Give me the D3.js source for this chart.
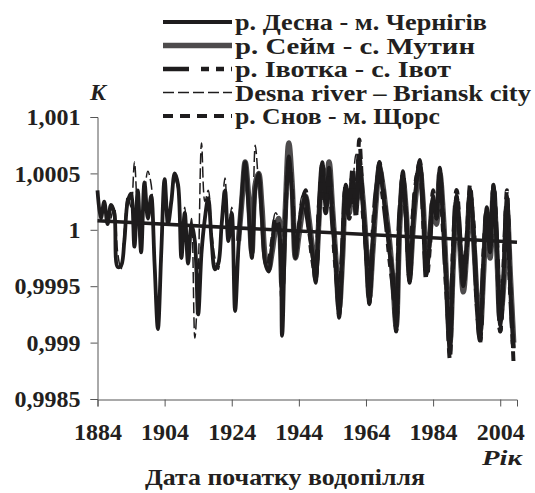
<!DOCTYPE html>
<html><head><meta charset="utf-8">
<script src="https://cdn.jsdelivr.net/npm/d3@7"></script>
<style>body{margin:0;background:#fff}svg{display:block}</style>
</head><body><svg id="c" width="535" height="493"></svg>
<script>
const seriesNames = ["р. Десна - м. Чернігів","р. Сейм - с. Мутин","р. Івотка - с. Івот","Desna river – Briansk city","р. Снов - м. Щорс"];
const yTicks = [0.9985, 0.999, 0.9995, 1, 1.0005, 1.001];
const yTickLabels = ["0,9985","0,999","0,9995","1","1,0005","1,001"];
const xTicks = [1884, 1904, 1924, 1944, 1964, 1984, 2004];
const desnaChernihivStart = 1884;
const desnaChernihiv = [1.00035,1.0001,1.00025,1.00005,1.00022,1.00015,0.99967,0.99968,0.9999,1.00025,1.00032,0.99985,1.00035,0.9998,1.00042,1.0001,1.0003,0.9997,0.99912,0.9998,
1.00045,1.00005,1.00025,1.0005,1.0004,0.99975,1.00015,0.9997,1.00005,0.9999,0.99925,0.9998,1.0001,1.00028,0.9999,0.99965,0.9997,1.00005,1.00035,0.9999,
1.00015,0.99928,0.99985,1.0003,1.0006,1.0002,0.99975,1.00035,1.0005,1.0001,0.9997,0.99963,0.99985,1.00005,1,0.99906,1.0001,1.00065,1.0003,0.99975,
1.00005,1.0002,1.0003,1.00005,0.9998,0.99953,1.00015,1.0006,1.0002,1.00055,1.0001,0.9997,0.99922,0.9998,1.0004,1.0002,1.0005,1.00015,1.0006,1.00025,
0.9998,0.99934,0.9999,1.0003,1.0006,1.00035,1.0001,0.9998,0.9996,0.9991,1.0001,1.00052,1.00005,0.99953,1.00005,1.0004,1.00062,1.0002,0.9996,0.9999,
1.0003,1.0001,1.00055,1.00005,0.9995,0.9989,0.9998,1.0003,0.9999,0.9995,0.99985,1.00036,1,0.9994,0.99905,0.9997,1.0002,0.9998,1.0004,0.99985,
0.99915,0.9996,1.0003,0.9995,0.99895];
const seimStart = 1926;
const seim = [0.9999,1.00025,1.0006,1.0003,0.9998,1.0004,1.0005,1.0002,0.99975,0.99965,0.9998,1,1.0001,0.9995,1.0002,1.00077,1.0004,0.99975,0.99995,1.00015,
1.0003,1.0001,0.99985,0.99965,1.0001,1.00055,1.0003,1.0006,1.0002,0.99975,0.9993,0.99975,1.00035,1.00015,1.00045,1.0002,1.00055,1.0003,0.9999,0.9994,
0.9998,1.00025,1.00055,1.0004,1.00015,0.9999,0.99955,0.99915,1,1.00045,1.00015,0.9996,1,1.00035,1.00055,1.00025,0.9997,0.99995,1.00025,1.00005,
1.0005,1.00015,0.99955,0.999,0.9997,1.00025,0.99985,0.99945,0.9998,1.0003,0.99995,0.99945,0.9991,0.9996,1.00015,0.99975,1.00035,0.9998,0.9992,0.9995,1.0002,0.9996,0.999];
const ivotkaStart = 1946;
const ivotka = [1.0002,1,0.99975,0.9996,1.0002,1.0005,1.00015,1.00045,1.00005,0.99965,0.99935,0.99985,1.0003,1.0001,1.0004,1.00025,1.00065,1.0002,0.99985,0.99945,
0.99995,1.00035,1.0005,1.0003,1.00005,0.99975,0.9995,0.9992,1.00015,1.0004,1.0001,0.99955,1.0001,1.00045,1.00055,1.00015,0.99955,0.99985,1.0002,1.00015,
1.00045,1,0.99945,0.99905,0.99985,1.00035,0.99995,0.99955,0.9999,1.0003,1.00005,0.99935,0.99902,0.99975,1.00015,0.99985,1.00035,0.9999,0.9991,0.99965,1.00025,0.99945,0.9989];
const brianskStart = 1888;
const briansk = [1.0001,1.0002,0.9998,0.99965,1,1.0003,1.0002,1.0006,1.0001,0.99985,1.0003,1.00052,1.0004,0.9998,0.99925,0.9997,1.00035,1.0001,1.0003,1.00045,
1.00035,0.99985,1.0002,0.9998,1.0001,0.99904,0.9996,1.00077,1.00025,1.00035,1,0.99975,0.99965,1.0001,1.00046,1,1.0002,0.99945,0.99975,1.0002,
1.00045,1.0003,0.99985,1.00075,1.0004,1.00005,0.9998,0.9997,0.99995,1.00015,1.0001,0.9992,1,1.00055,1.00025,0.99985,1.0001,1.0003,1.00025,1.0001,
0.9999,0.9996,1.0002,1.0005,1.0003,1.00045,1.0002,0.9998,0.99935,0.9999,1.0003,1.00025,1.0004,1.00067,1.0003,1.0002,0.9999,0.99945,1,1.0002,
1.0005,1.0003,1.0002,0.9999,0.9997,0.99925,1,1.00045,1.00015,0.99965,1.0001,1.0003,1.0005,1.0001,0.9997,1,1.0002,1.00005,1.00045,1.0001,0.9996,0.9991,0.9999];
const snovStart = 1935;
const snov = [0.9997,0.9999,1.0001,1.00005,0.9994,1.00015,1.0006,1.00035,0.9998,1,1.00025,1.00035,1,0.9998,0.99955,1.0001,1.0006,1.00025,1.0005,1.00015,
0.99975,0.99925,0.99985,1.0004,1.00025,1.00055,1.0001,1.0008,1.0003,0.99985,0.99935,0.99985,1.0003,1.0006,1.0004,1.00015,0.99985,0.99955,0.9991,1.00005,
1.0005,1.0001,0.9996,1.00015,1.00045,1.0006,1.0002,0.99965,0.9999,1.00035,1.0001,1.0005,1.0001,0.9995,0.99885,0.99975,1.0003,0.9999,0.9995,0.9998,
1.0004,1,0.99935,0.999,0.9997,1.0002,0.9998,1.0004,0.99985,0.9991,0.99955,1.00035,0.9995,0.9988];
const trendYears = [1884, 2009];
const trendValues = [1.00008, 0.99989];

const FONT = "Liberation Serif, Times New Roman, serif";
const INK = "#231f20";
const svg = d3.select("#c");
const x = d3.scaleLinear().domain([1884, 2009]).range([97.5, 517]);
const y = d3.scaleLinear().domain([0.9985, 1.001]).range([399, 117]);

// axes
const yAxis = d3.axisLeft(y).tickValues(yTicks).tickFormat((d,i)=>yTickLabels[i]).tickSizeOuter(0).tickSize(7).tickPadding(10);
const gy = svg.append("g").attr("transform","translate(97.5,0)").call(yAxis);
gy.attr("font-family", FONT).attr("font-size", 24);
gy.select(".domain").attr("stroke","#555");
gy.selectAll(".tick line").attr("stroke","#555");
gy.selectAll("text").attr("fill",INK).attr("font-weight","bold");

const xAxis = d3.axisBottom(x).tickValues(xTicks).tickFormat(d3.format("d")).tickSizeOuter(0).tickSize(7).tickPadding(16);
const gx = svg.append("g").attr("transform","translate(0,399.5)").call(xAxis);
gx.attr("font-family", FONT).attr("font-size", 24);
gx.select(".domain").attr("stroke","#555");
gx.selectAll(".tick line").attr("stroke","#555");
gx.selectAll("text").attr("fill",INK).attr("font-weight","bold");

const toPts = (start, arr) => arr.map((v,i)=>[start+i, v]);
const line = d3.line().x(d=>x(d[0])).y(d=>y(d[1])).curve(d3.curveCatmullRom.alpha(0.5));

const styles = [
  {w:3.8, c:"#1e1c1d", dash:null},
  {w:5.5, c:"#4d4b4c", dash:null},
  {w:4.5, c:"#1e1c1d", dash:"26,12,8,7,8,7"},
  {w:1.5, c:"#1e1c1d", dash:"11,4"},
  {w:4, c:"#1e1c1d", dash:"10,7"}
];
const data = [
  toPts(desnaChernihivStart, desnaChernihiv),
  toPts(seimStart, seim),
  toPts(ivotkaStart, ivotka),
  toPts(brianskStart, briansk),
  toPts(snovStart, snov)
];
const order = [3, 1, 0, 2, 4];
const plot = svg.append("g");
order.forEach(i=>{
  plot.append("path").datum(data[i]).attr("d", line)
    .attr("fill","none").attr("stroke",styles[i].c).attr("stroke-width",styles[i].w)
    .attr("stroke-dasharray",styles[i].dash).attr("stroke-linejoin","round");
});
// trend line
plot.append("path").datum(trendYears.map((t,i)=>[t,trendValues[i]]))
  .attr("d", d3.line().x(d=>x(d[0])).y(d=>y(d[1])))
  .attr("stroke","#1e1c1d").attr("stroke-width",3.5).attr("fill","none");

// legend
const legendWidths = [252, 240, 216, 296, 205];
const lg = svg.append("g").attr("font-family", FONT).attr("font-weight","bold").attr("fill",INK);
seriesNames.forEach((n,i)=>{
  const yy = 22 + i*23.5;
  lg.append("line").attr("x1",163).attr("x2",232).attr("y1",yy).attr("y2",yy)
    .attr("stroke",styles[i].c).attr("stroke-width",styles[i].w).attr("stroke-dasharray",styles[i].dash);
  lg.append("text").attr("x",235).attr("y",yy+8).attr("font-size",23)
    .attr("textLength",legendWidths[i]).attr("lengthAdjust","spacingAndGlyphs").text(n);
});

const lab = svg.append("g").attr("font-family", FONT).attr("font-weight","bold").attr("fill",INK);
lab.append("text").attr("x",90).attr("y",100).attr("font-size",24).attr("font-style","italic").text("K");
lab.append("text").attr("x",482).attr("y",465).attr("font-size",22).attr("font-style","italic")
  .attr("textLength",40).attr("lengthAdjust","spacingAndGlyphs").text("Рік");
lab.append("text").attr("x",145).attr("y",485).attr("font-size",23)
  .attr("textLength",280).attr("lengthAdjust","spacingAndGlyphs").text("Дата початку водопілля");
</script></body></html>
